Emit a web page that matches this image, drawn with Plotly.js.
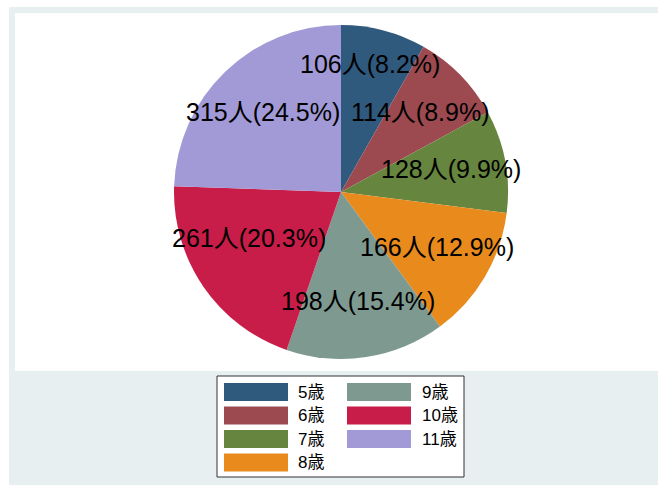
<!DOCTYPE html>
<html>
<head>
<meta charset="utf-8">
<script src="https://cdn.plot.ly/plotly-3.0.1.min.js"></script>
<style>html,body{margin:0;padding:0;background:#fff;}#chart{width:658px;height:485px;}</style>
</head>
<body>
<div id="chart"></div>
<script>
// ---- data ----
var categories = ["5歳", "6歳", "7歳", "8歳", "9歳", "10歳", "11歳"];
var counts = [106, 114, 128, 166, 198, 261, 315];
var unitLabel = "人";

// ---- style ----
var colors = ["#30597e", "#9c4a50", "#66853f", "#e88b1c", "#7e9a90", "#c81d48", "#a19ad6"];
var labelNudgeY = [-20, -2, -2, -2, -2, -17, 0];   // px nudges for label placement (layout only)
var W = 658, H = 485;
var FONT = "'Liberation Sans', Arial, 'Noto Sans CJK JP', sans-serif";
function px(x) { return x / W; }
function py(y) { return 1 - y / H; }

var cx = 341, cy = 192, R = 167;   // pie geometry in pixels
var labelFrac = 0.67;

var total = counts.reduce(function (a, b) { return a + b; }, 0);

var trace = {
  type: "pie",
  values: counts,
  labels: categories,
  sort: false,
  direction: "clockwise",
  rotation: 0,
  marker: { colors: colors, line: { width: 0 } },
  textinfo: "none",
  hoverinfo: "none",
  showlegend: false,
  domain: { x: [px(cx - R), px(cx + R)], y: [py(cy + R), py(cy - R)] }
};

var annotations = [];
var shapes = [];

// background panels
shapes.push({ type: "rect", xref: "paper", yref: "paper", x0: px(9), x1: 1, y0: 0, y1: py(7),
  fillcolor: "#e7eff1", line: { width: 0 }, layer: "below" });
shapes.push({ type: "rect", xref: "paper", yref: "paper", x0: px(15), x1: 1, y0: py(371), y1: py(13),
  fillcolor: "#ffffff", line: { width: 0 }, layer: "below" });

// slice labels at mid-angles
var cum = 0;
for (var i = 0; i < counts.length; i++) {
  var mid = (cum + counts[i] / 2) / total * 2 * Math.PI;
  cum += counts[i];
  var lx = cx + labelFrac * R * Math.sin(mid);
  var ly = cy - labelFrac * R * Math.cos(mid) + labelNudgeY[i];
  var pct = (counts[i] / total * 100).toFixed(1);
  annotations.push({
    xref: "paper", yref: "paper", x: px(lx), y: py(ly),
    xanchor: "center", yanchor: "middle", showarrow: false,
    text: counts[i] + unitLabel + "(" + pct + "%)",
    font: { family: FONT, size: 25, color: "#000" }
  });
}

// custom legend
shapes.push({ type: "rect", xref: "paper", yref: "paper", x0: px(217), x1: px(464), y0: py(477), y1: py(376),
  fillcolor: "#ffffff", line: { color: "#333333", width: 1 }, layer: "above" });
var rows = 4;
var colSwX = [224, 347], colTxX = [296, 420];
for (var j = 0; j < categories.length; j++) {
  var c = Math.floor(j / rows), r = j % rows;
  var yc = 392 + r * 23.5;
  shapes.push({ type: "rect", xref: "paper", yref: "paper",
    x0: px(colSwX[c]), x1: px(colSwX[c] + 64), y0: py(yc + 9), y1: py(yc - 9),
    fillcolor: colors[j], line: { width: 0 }, layer: "above" });
  annotations.push({ xref: "paper", yref: "paper", x: px(colTxX[c]), y: py(yc),
    xanchor: "left", yanchor: "middle", showarrow: false, text: categories[j],
    font: { family: FONT, size: 17, color: "#000" } });
}

var layout = {
  width: W, height: H,
  margin: { l: 0, r: 0, t: 0, b: 0 },
  paper_bgcolor: "#ffffff",
  plot_bgcolor: "#ffffff",
  showlegend: false,
  shapes: shapes,
  annotations: annotations
};

Plotly.newPlot("chart", [trace], layout, { staticPlot: true, displayModeBar: false });
</script>
</body>
</html>
